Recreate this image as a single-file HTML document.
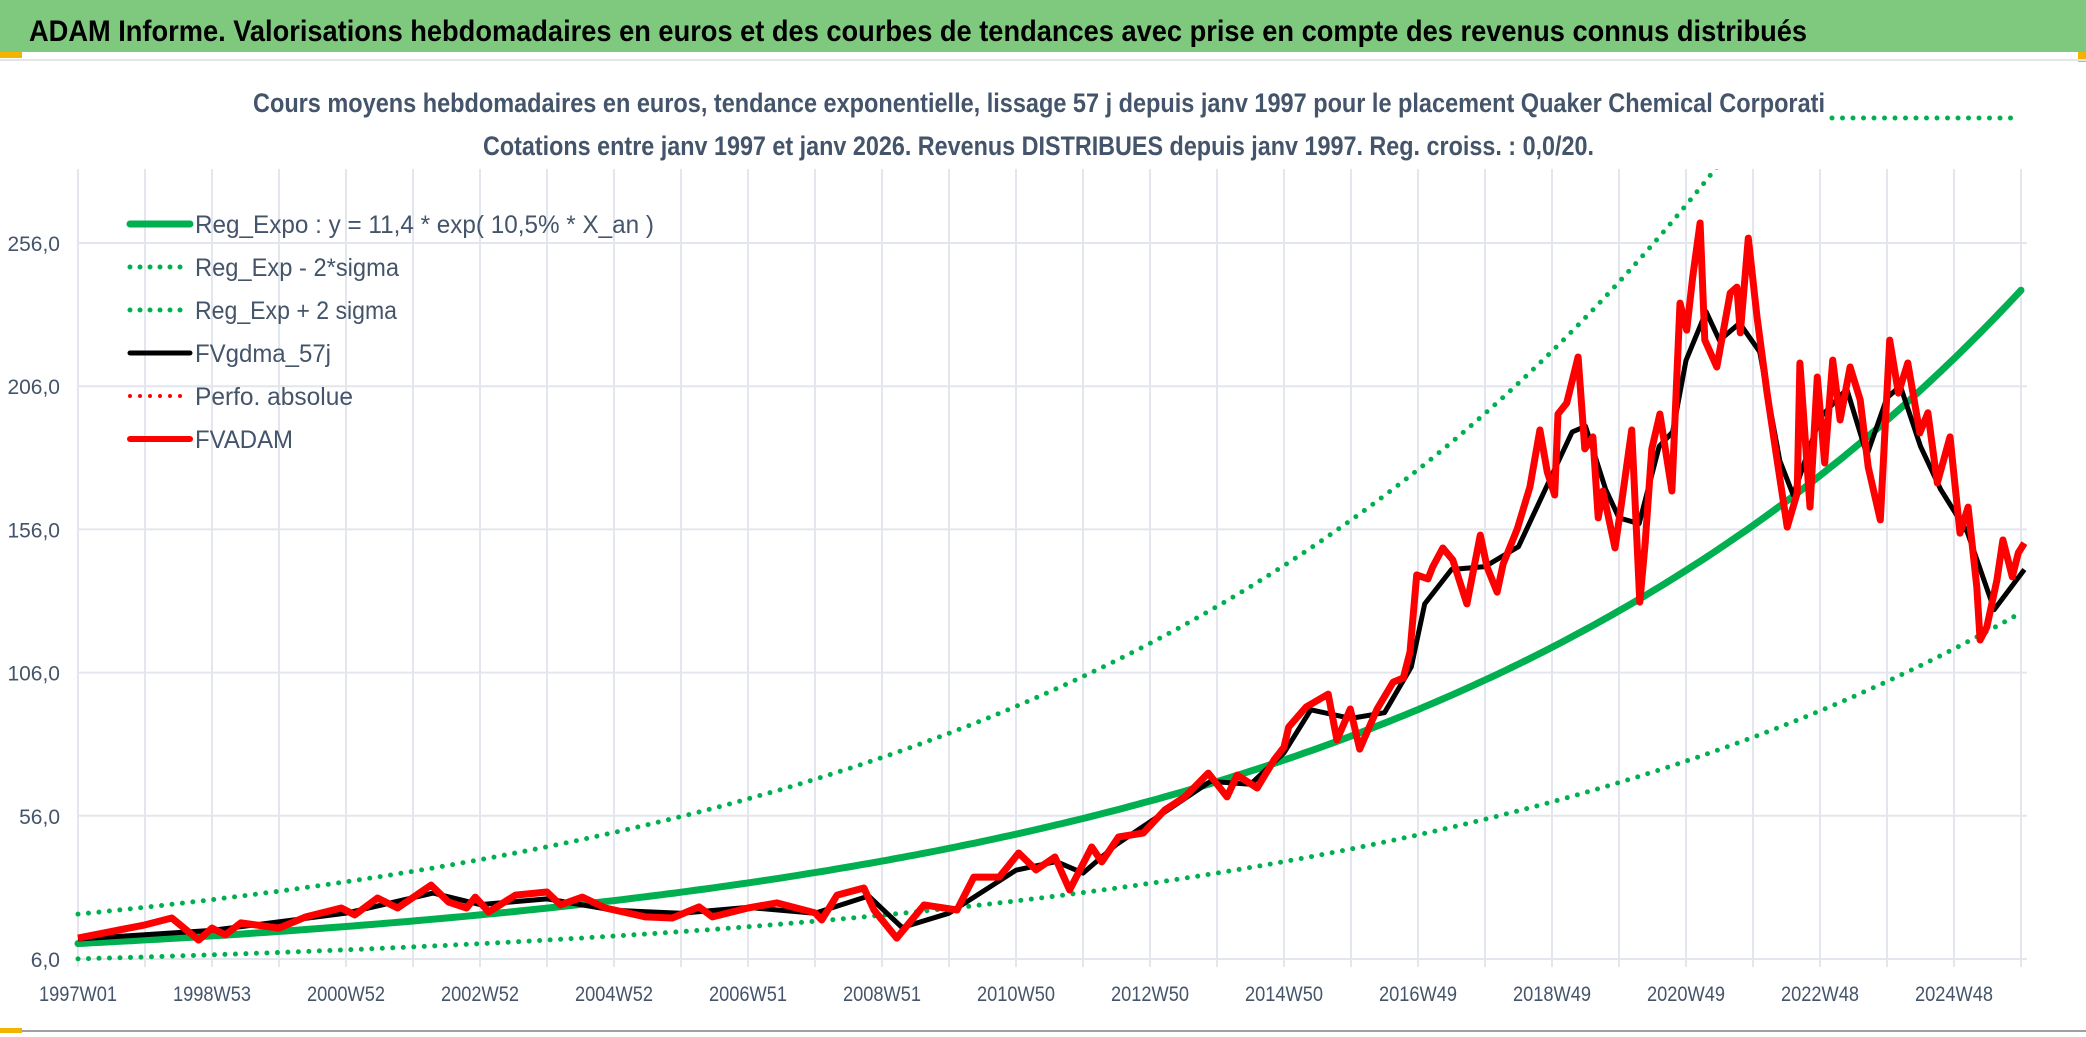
<!DOCTYPE html>
<html><head><meta charset="utf-8"><style>
html,body{margin:0;padding:0;background:#fff;}
svg{display:block;}
text{font-family:"Liberation Sans",sans-serif;}
</style></head><body>
<svg id="chart" width="2086" height="1037" viewBox="0 0 2086 1037" xmlns="http://www.w3.org/2000/svg">
<rect x="0" y="0" width="2086" height="1037" fill="#fff"/>
<rect x="0" y="0" width="2086" height="52" fill="#7fc97e"/>
<rect x="0" y="52" width="22" height="6" fill="#f2b400"/>
<rect x="2078" y="52" width="8" height="10" fill="#f2b400"/>
<line x1="0" y1="60" x2="2086" y2="60" stroke="#e3e5e8" stroke-width="2"/>
<line x1="0" y1="1031" x2="2086" y2="1031" stroke="#a0a0a0" stroke-width="2"/>
<rect x="0" y="1028" width="22" height="5" fill="#f2b400"/>
<text x="29" y="41" font-size="30" font-weight="bold" fill="#000" textLength="1778" lengthAdjust="spacingAndGlyphs">ADAM Informe. Valorisations hebdomadaires en euros et des courbes de tendances avec prise en compte des revenus connus distribués</text>
<text x="253" y="112" font-size="27" font-weight="bold" fill="#44546a" textLength="1572" lengthAdjust="spacingAndGlyphs">Cours moyens hebdomadaires en euros, tendance exponentielle, lissage 57 j depuis janv 1997 pour le placement Quaker Chemical Corporati</text>
<text x="483" y="155" font-size="27" font-weight="bold" fill="#44546a" textLength="1111" lengthAdjust="spacingAndGlyphs">Cotations entre janv 1997 et janv 2026. Revenus DISTRIBUES depuis janv 1997. Reg. croiss. : 0,0/20.</text>
<line x1="1832" y1="118" x2="2016" y2="118" stroke="#00b050" stroke-width="5" stroke-linecap="round" stroke-dasharray="0 10.5"/>
<g id="grid"></g>
<g id="axes"></g>
<defs><clipPath id="plotclip"><rect x="70" y="169" width="1965" height="800"/></clipPath></defs>
<g id="series" clip-path="url(#plotclip)"></g>
<g id="legend"></g>
</svg>
<script>
// ---- data ----
const yTicks = [6, 56, 106, 156, 206, 256];
const yTickLabels = ["6,0", "56,0", "106,0", "156,0", "206,0", "256,0"];
const xTickLabels = ["1997W01","1998W53","2000W52","2002W52","2004W52","2006W51","2008W51","2010W50","2012W50","2014W50","2016W49","2018W49","2020W49","2022W48","2024W48"];
const regA = 11.4;
const regRate = 0.105;
const bandLowFactor = 0.53;
const bandHighFactor = 1.9;
const redYears = [0,1.0,1.4,1.8,2.0,2.2,2.43,3.0,3.4,3.93,4.13,4.47,4.77,5.27,5.53,5.8,5.93,6.13,6.53,7.0,7.2,7.53,7.87,8.47,8.87,9.27,9.47,10.0,10.43,11.0,11.1,11.33,11.73,11.88,12.22,12.63,13.12,13.37,13.75,14.04,14.3,14.58,14.8,15.13,15.28,15.53,15.9,16.22,16.52,16.87,17.15,17.3,17.6,17.85,18.0,18.07,18.33,18.66,18.79,18.99,19.13,19.39,19.63,19.78,19.88,19.98,20.15,20.22,20.37,20.52,20.73,20.93,21.03,21.18,21.27,21.48,21.67,21.82,21.93,22.04,22.09,22.22,22.39,22.49,22.61,22.69,22.76,22.94,23.04,23.19,23.31,23.39,23.49,23.61,23.79,23.91,24.01,24.1,24.21,24.28,24.46,24.66,24.76,24.81,24.93,25.06,25.21,25.36,25.51,25.66,25.7,25.85,25.96,26.07,26.19,26.3,26.45,26.6,26.72,26.9,27.04,27.17,27.31,27.49,27.61,27.75,27.94,28.09,28.21,28.34,28.39,28.49,28.64,28.73,28.87,28.96,29.05];
const redValues = [13.3,17.9,20.3,12.6,16.8,14.4,18.6,16.8,20.7,23.8,21.4,27.3,23.8,31.8,25.9,23.8,27.6,22.4,28.3,29.4,24.9,27.6,23.8,20.7,20.3,24.2,20.7,23.8,25.6,22.1,19.6,28.3,30.8,23.1,13.3,24.9,23.1,34.6,34.6,43.0,37.1,41.6,30.1,45.1,39.9,48.6,50.0,58.0,62.6,70.9,62.6,70.2,65.7,75.5,80.0,87.0,94.0,98.5,82.5,93.3,79.3,93.3,102.7,104.1,113.2,140.1,138.7,142.9,149.5,145.3,130,154,142.9,134.1,143.9,156.1,170.8,190.7,176.0,168,196.3,200.1,216.2,184.1,188.3,160,169.4,149.5,165.6,190.7,130.6,150.9,184.1,196.3,169.4,235,225.6,244.1,263,222.1,212.7,238.5,240.6,224.6,257.7,230.2,203.6,180.2,156.8,168.7,214.1,163.8,209.2,179.2,215.1,194.2,212.7,201.2,177.8,159.3,222.1,203.6,214.1,189.7,196.7,172.2,188.3,154.7,163.8,135.9,117.4,121.9,138.3,152.3,139.4,147.8,151.2];
const smoothYears = [0,2,4,5.3,6,7,8,9,10,11,11.8,12.3,13,14,14.6,15,15.5,16.2,16.9,17.5,18.0,18.4,19.0,19.5,19.9,20.1,20.5,21.0,21.5,22.0,22.3,22.5,22.8,23.0,23.3,23.6,23.8,24.0,24.3,24.5,24.8,25.1,25.4,25.6,26.0,26.4,26.7,27.0,27.2,27.5,27.8,28.2,28.6,29.05];
const smoothValues = [13,16,22,29,25,27,23,22,24,22,28,17,22,37,40,36,46,57,68,67,78,93,90,92,108,130,142,143,150,175,190,192,170,160,158,185,190,215,232,222,228,218,180,168,195,205,182,202,206,185,170,155,128,142];
const endYear = 29.05;

// ---- axes ----
const X0 = 78, PX_PER_YEAR = 67, Y0 = 959, PX_PER_UNIT = 2.864;
function xScale(t){ return X0 + t * PX_PER_YEAR; }
function yScale(v){ return Y0 - (v - 6) * PX_PER_UNIT; }
const NS = "http://www.w3.org/2000/svg";
function mk(tag, attrs, parent){ const e=document.createElementNS(NS,tag); for(const k in attrs) e.setAttribute(k,attrs[k]); parent.appendChild(e); return e; }

const grid = document.getElementById('grid');
for(let i=0;i<=29;i++){
  const x = xScale(i);
  const l = mk('line',{x1:x,y1:169,x2:x,y2:967,stroke:'#e3e6ec','stroke-width':2},grid);
  
  
}
yTicks.forEach(v=>{
  const y=yScale(v);
  const l = mk('line',{x1:78,y1:y,x2:2027,y2:y,stroke:'#e3e6ec','stroke-width':2},grid);
  
  
});
const axes = document.getElementById('axes');
yTicks.forEach((v,i)=>{
  const t = mk('text',{x:60,y:yScale(v)+8,'font-size':21,fill:'#44546a','text-anchor':'end'},axes);
  t.textContent = yTickLabels[i];
  
  
});
xTickLabels.forEach((s,i)=>{
  const t = mk('text',{x:xScale(i*2)-39,y:1001,'font-size':21,fill:'#44546a',textLength:78,lengthAdjust:'spacingAndGlyphs'},axes);
  t.textContent = s;
  
  
});

// ---- series ----
const series = document.getElementById('series');
function trendPts(f){ const p=[]; for(let t=0;t<=endYear+0.001;t+=0.1){ p.push(xScale(t).toFixed(1)+','+yScale(regA*Math.exp(regRate*t)*f).toFixed(1)); } return p.join(' '); }
const lo = mk('polyline',{points:trendPts(bandLowFactor),fill:'none',stroke:'#00b050','stroke-width':5,'stroke-linecap':'round','stroke-dasharray':'0 10.5'},series);


const hi = mk('polyline',{points:trendPts(bandHighFactor),fill:'none',stroke:'#00b050','stroke-width':5,'stroke-linecap':'round','stroke-dasharray':'0 10.5'},series);


const tr = mk('polyline',{points:trendPts(1),fill:'none',stroke:'#00b050','stroke-width':7,'stroke-linecap':'round'},series);


const bk = mk('polyline',{points:smoothYears.map((t,i)=>xScale(t).toFixed(1)+','+yScale(smoothValues[i]).toFixed(1)).join(' '),fill:'none',stroke:'#000','stroke-width':5,'stroke-linejoin':'round'},series);


const rd = mk('polyline',{points:redYears.map((t,i)=>xScale(t).toFixed(1)+','+yScale(redValues[i]).toFixed(1)).join(' '),fill:'none',stroke:'#ff0000','stroke-width':7,'stroke-linejoin':'round'},series);



// ---- legend ----
const legend = document.getElementById('legend');
const legItems = [
 ["Reg_Expo : y = 11,4 * exp( 10,5% *  X_an )","#00b050","solid",459,7,"legend-reg-expo"],
 ["Reg_Exp - 2*sigma","#00b050","dot",204,5,"legend-reg-exp-minus"],
 ["Reg_Exp + 2 sigma","#00b050","dot",202,5,"legend-reg-exp-plus"],
 ["FVgdma_57j","#000000","solid",136,5,"legend-fvgdma"],
 ["Perfo. absolue","#ff0000","dot",158,4,"legend-perfo-absolue"],
 ["FVADAM","#ff0000","solid",98,6,"legend-fvadam"]
];
legItems.forEach((it,i)=>{
  const y = 224 + i*43;
  const g = mk('g',{},legend);
  
  
  const a = {x1:130,y1:y,x2:190,y2:y,stroke:it[1],'stroke-width':it[4],'stroke-linecap':'round'};
  if(it[2]==='dot'){ a['stroke-dasharray']='0 10'; }
  mk('line',a,g);
  const t = mk('text',{x:195,y:y+9,'font-size':25,fill:'#44546a',textLength:it[3],lengthAdjust:'spacingAndGlyphs'},g);
  t.textContent = it[0];
});
</script>
</body></html>
